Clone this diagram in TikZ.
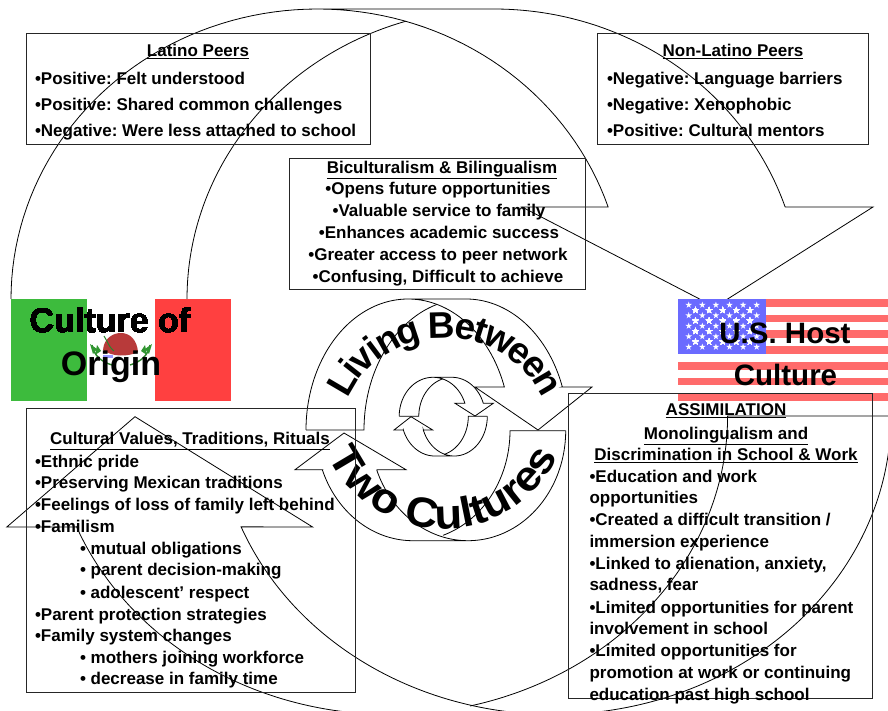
\documentclass[tikz,border=0pt]{standalone}
\usepackage{fontspec}
\setmainfont{Liberation Sans}
\newfontfamily\arclower[FakeStretch=1.08]{Liberation Sans Bold}
\usetikzlibrary{decorations.text}
\frenchspacing
\newcommand\earc[6]{plot[variable=\t,domain=#5:#6,samples=80] ({#1+#3*cos(\t)},{#2-#4*sin(\t)})}
\newcommand\learc[6]{-- plot[variable=\t,domain=#5:#6,samples=80] ({#1+#3*cos(\t)},{#2-#4*sin(\t)})}
\newcommand\ustar[2]{\fill[white] plot[variable=\a,samples at={0,1,...,9}] ({#1+(3.4-2.1*mod(\a,2))*sin(36*\a)},{#2-(3.4-2.1*mod(\a,2))*cos(36*\a)}) -- cycle;}
\newcommand\arcfontB{\arclower\fontsize{42}{42}\selectfont}
\definecolor{mexgreen}{HTML}{3DBB3D}
\definecolor{mexred}{HTML}{FF4040}
\definecolor{usred}{HTML}{FF6B6B}
\definecolor{usblue}{HTML}{6B6BFF}
\definecolor{eagle}{HTML}{B83A3A}
\tikzset{
  x=1pt,y=-1pt,
  arrowline/.style={draw=black,line width=0.8pt,line join=miter},
  infobox/.style={draw=black!85,line width=0.9pt},
  txt/.style={anchor=base west,inner sep=0pt,outer sep=0pt,yshift=-0.7pt,font=\fontsize{17}{17}\selectfont\bfseries},
  ctr/.style={anchor=base,inner sep=0pt,outer sep=0pt,yshift=-0.7pt,font=\fontsize{17}{17}\selectfont\bfseries},
  flagtxt/.style={anchor=base,inner sep=0pt,outer sep=0pt,font=\fontsize{34}{34}\selectfont\bfseries},
  flagtxtus/.style={anchor=base,inner sep=0pt,outer sep=0pt,font=\fontsize{29.5}{29.5}\selectfont\bfseries},
  arcletter/.style={anchor=base,inner sep=0pt,outer sep=0pt,font=\fontsize{37}{37}\selectfont\bfseries},
}
\begin{document}
\begin{tikzpicture}
\useasboundingbox (0,0) rectangle (888,711);
\clip (0,0) rectangle (888,711);
% big top arrow
\path[arrowline] \earc{317.5}{299}{306.5}{290}{180}{18.5} -- (522,207) -- (715,307) -- (873,207) -- (785,207) \learc{494}{299}{307}{290}{18.5}{90} -- (317.5,9);
\path[arrowline] (11,300) -- (187,300) \learc{494}{299}{307}{290}{180}{106.7};
% big bottom arrow
\path[arrowline] \earc{554}{416}{337}{298.5}{270}{201.8} -- (312.6,527) -- (135,416.7) -- (6.8,527) -- (77,527) \learc{390}{416}{337.6}{298.5}{201.8}{270} -- (554,714.5);
\path[arrowline] (891,416) -- (727.6,416) \learc{390}{416}{337.6}{298.5}{0}{-76.3};
\path[arrowline] \earc{554}{416}{337}{298.5}{360}{270};
% medium top arrow
\path[arrowline] \earc{408}{430}{102}{131}{180}{19.2} -- (475,387) -- (538,430) -- (592,387) -- (562,387) \learc{466}{430}{102}{131}{19.2}{90} -- (408,299);
\path[arrowline] (306,430) -- (364,430) \learc{466}{430}{102}{131}{180}{106.7};
% medium bottom arrow
\path[arrowline] (565.7,430.7) -- (510,430.7) \learc{413}{430.7}{97}{110}{0}{-72};
\path[arrowline] (565.7,430.7) \learc{468}{430.7}{97.7}{110}{0}{-159} -- (377,469.7) -- (406,469.7) -- (344,433) -- (295,469.7) -- (322.7,469.7) \learc{413}{430.7}{97}{110}{-159}{-90} -- (468,540.7);
% small top arrow
\path[arrowline] \earc{433}{416.3}{33.8}{39}{180}{19.5} -- (455,403.3) -- (475,416) -- (493.3,403.3) -- (483.3,403.3) \learc{452}{416.3}{33.2}{39}{19.5}{90} -- (433,377.3);
\path[arrowline] (399.3,416.3) -- (418.7,416.3) \learc{452}{416.3}{33.2}{39}{180}{106};
% small bottom arrow
\path[arrowline] (487.3,416.3) -- (468.3,416.3) \learc{434.8}{416.3}{33.5}{39.7}{0}{-74};
\path[arrowline] (487.3,416.3) \learc{454.3}{416.3}{33}{39.7}{0}{-160} -- (423.3,430) -- (432.7,430) -- (411,416.7) -- (394,430) -- (403.3,430) \learc{434.8}{416.3}{33.5}{39.7}{-160}{-90} -- (454.3,456);
% Mexican flag
\fill[white] (87,299) rectangle (155,401);
\fill[mexgreen] (11,299) rectangle (87,401);
\fill[mexred] (155,299) rectangle (231,401);
\fill[eagle] (103,350) .. controls (104,338) and (113,333) .. (121,333) .. controls (130,333) and (137,340) .. (138,352) .. controls (128,357) and (112,357) .. (103,350) -- cycle;
\draw[mexgreen!70!black,line width=1.4pt] (92,345) .. controls (94,356) and (102,362) .. (112,365);
\draw[mexgreen!70!black,line width=1.4pt] (150,345) .. controls (148,356) and (140,362) .. (130,365);
\fill[mexgreen!80!black] (90,344) -- (97,349) -- (93,354) -- cycle;
\fill[mexgreen!80!black] (152,344) -- (145,349) -- (149,354) -- cycle;
\fill[mexgreen!80!black] (97,345) -- (101,351) -- (95,355) -- cycle;
\fill[mexgreen!80!black] (145,345) -- (141,351) -- (147,355) -- cycle;
\draw[mexgreen!70!black,line width=1pt] (104,336) .. controls (108,342) and (108,346) .. (114,351);
\fill[blue!40] (103,355) rectangle (113,358);
% US flag
\foreach \ya/\yb in {299/306.7,315/322.3,330/337.7,346/353.7,362/370,377.7/385.3,393.3/400.7}
  \fill[usred] (678,\ya) rectangle (888,\yb);
\fill[usblue] (678,299) rectangle (766,354);
\foreach \r in {0,2,4,6,8}
  \foreach \c in {0,...,5}
    \ustar{688.7+13.6*\c}{305+5.25*\r}
\foreach \r in {1,3,5,7}
  \foreach \c in {0,...,4}
    \ustar{695.5+13.6*\c}{305+5.25*\r}
% flag labels
\node[flagtxt] (co1) at (110,332.5) {Culture of};
\node[flagtxt] (co2) at (111,375.5) {Origin};
\node[flagtxtus] (us1) at (785,343.5) {U.S. Host};
\node[flagtxtus] (us2) at (785.5,385) {Culture};
% arched text
\foreach \ch/\c [count=\n] in {L/0.3055,i/0.75,v/1.167,i/1.584,n/2.028,g/2.639,B/3.584,e/4.223,t/4.6675,w/5.223,e/5.89,e/6.446,n/7.03}{
  \pgfmathsetmacro\ang{155-130*\c/7.335}
  \node[arcletter,rotate=\ang-90] (lb\n) at ({445+107*cos(\ang)},{440-102*sin(\ang)}) {\ch};
}
\path[decorate,decoration={text along path,text align=center,text format delimiters={|}{|},text={|\arcfontB|Two Cultures}}] \earc{443}{402}{127}{127}{180}{360};
% boxes
\draw[infobox] (26,33) rectangle (370,144);
\draw[infobox] (597.5,33) rectangle (868.5,144);
\draw[infobox] (289.5,158.5) rectangle (585.5,289);
\draw[infobox] (26,408.7) rectangle (355.5,692.3);
\draw[infobox] (568,393) rectangle (872.5,698.3);
% Latino peers
\node[ctr] (lpt) at (198,56) {\underline{Latino Peers}};
\node[txt] (lp1) at (35,84) {•Positive: Felt understood};
\node[txt] (lp2) at (35,110) {•Positive: Shared common challenges};
\node[txt] (lp3) at (35,136) {•Negative: Were less attached to school};
% non-Latino peers
\node[ctr] (npt) at (733,56) {\underline{Non-Latino Peers}};
\node[txt] (np1) at (607,84) {•Negative: Language barriers};
\node[txt] (np2) at (607,110) {•Negative: Xenophobic};
\node[txt] (np3) at (607,136) {•Positive: Cultural mentors};
% biculturalism
\node[ctr] (bit) at (442,172.5) {\underline{Biculturalism \& Bilingualism}};
\node[ctr] (bi1) at (438,194) {•Opens future opportunities};
\node[ctr] (bi2) at (439,216) {•Valuable service to family};
\node[ctr] (bi3) at (439,238) {•Enhances academic success};
\node[ctr] (bi4) at (438,259.5) {•Greater access to peer network};
\node[ctr] (bi5) at (438,281.5) {•Confusing, Difficult to achieve};
% cultural values
\node[ctr] (cvt) at (190,444) {\underline{Cultural Values, Traditions, Rituals}};
\node[txt] (cv1) at (35,466.7) {•Ethnic pride};
\node[txt] (cv2) at (35,488) {•Preserving Mexican traditions};
\node[txt] (cv3) at (35,510) {•Feelings of loss of family left behind};
\node[txt] (cv4) at (35,531.7) {•Familism};
\node[txt] (cv5) at (80,553.3) {• mutual obligations};
\node[txt] (cv6) at (80,575) {• parent decision-making};
\node[txt] (cv7) at (80,597.3) {• adolescent’ respect};
\node[txt] (cv8) at (35,619.3) {•Parent protection strategies};
\node[txt] (cv9) at (35,640.7) {•Family system changes};
\node[txt] (cv10) at (80,662.3) {• mothers joining workforce};
\node[txt] (cv11) at (80,684) {• decrease in family time};
% assimilation
\node[ctr] (ast1) at (726,415) {\underline{ASSIMILATION}};
\node[ctr] (ast2) at (726,438.3) {\underline{Monolingualism and}};
\node[ctr] (ast3) at (726,460) {\underline{Discrimination in School \& Work}};
\node[txt] (as1) at (589.5,481.7) {•Education and work};
\node[txt] (as2) at (589.5,502.7) {opportunities};
\node[txt] (as3) at (589.5,525) {•Created a difficult transition /};
\node[txt] (as4) at (589.5,546.7) {immersion experience};
\node[txt] (as5) at (589.5,568.3) {•Linked to alienation, anxiety,};
\node[txt] (as6) at (589.5,590) {sadness, fear};
\node[txt] (as7) at (589.5,612.3) {•Limited opportunities for parent};
\node[txt] (as8) at (589.5,633.3) {involvement in school};
\node[txt] (as9) at (589.5,656) {•Limited opportunities for};
\node[txt] (as10) at (589.5,677.3) {promotion at work or continuing};
\node[txt] (as11) at (589.5,699.3) {education past high school};
\end{tikzpicture}
\end{document}
